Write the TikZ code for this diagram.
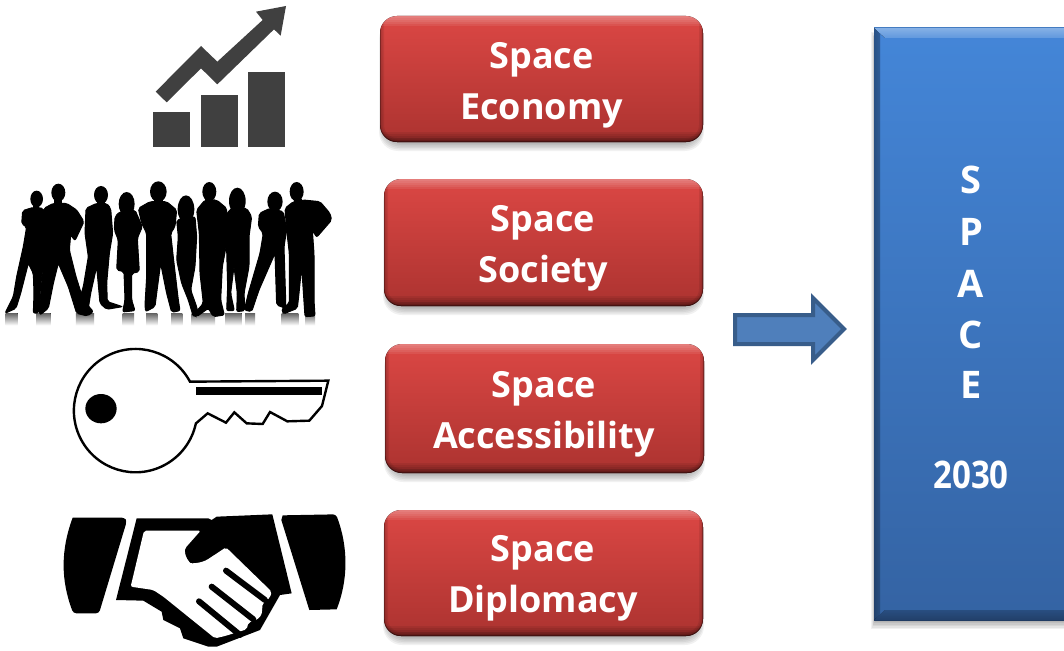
\documentclass[tikz,border=0pt]{standalone}
\usepackage{fontspec}
\setmainfont{Open Sans}
\definecolor{ico}{HTML}{404040}
\definecolor{boxtop}{HTML}{DB4744}
\definecolor{boxbot}{HTML}{AC3330}
\definecolor{blutop}{HTML}{4486D8}
\definecolor{blubot}{HTML}{3463A3}
\definecolor{arrowfill}{HTML}{4F7FBB}
\definecolor{arrowline}{HTML}{385D8A}
\tikzset{
 redbox/.style={rounded corners=17pt,top color=boxtop,bottom color=boxbot},
 boxtxt/.style={text=white,font=\bfseries\fontsize{36}{51}\selectfont,align=center,inner sep=0pt},
 spacetxt/.style={text=white,font=\bfseries\fontsize{38}{38}\selectfont,inner sep=0pt},
 person/.style={fill=black,draw=black,line width=1pt,rounded corners=2pt},
 reflect/.style={top color=black!60,bottom color=white,draw=none},
 softshadow/.style={fill=black,opacity=.055,draw=none},
}
\newcommand{\redpanel}[4]{%
  \foreach \k in {0,1.5,3,4.5,6,7.5}
    \fill[softshadow,rounded corners=19pt] (#1-1+\k/2,#2+4+\k) rectangle (#3+1-\k/2,#4+9-\k);
  \fill[redbox] (#1,#2) rectangle (#3,#4);
  \begin{scope}
    \clip[rounded corners=17pt] (#1,#2) rectangle (#3,#4);
    \foreach \k in {2,4,6,8,10}
      \fill[white,opacity=.07] (#1,#2) rectangle (#3,#2+\k);
    \foreach \k in {2,4,6,8,10}
      \fill[black,opacity=.07] (#1,#4) rectangle (#3,#4-\k);
    \foreach \k in {2,5,8}
      \draw[black,opacity=.08,line width=\k pt,rounded corners=17pt] (#1,#2-14) rectangle (#3,#4);
    \draw[black,opacity=.35,line width=1.4pt,rounded corners=17pt] (#1,#2-14) rectangle (#3,#4);
  \end{scope}
}
\begin{document}
\begin{tikzpicture}[x=1pt,y=-1pt]
\useasboundingbox (0,0) rectangle (1064,650);
\fill[white] (0,0) rectangle (1064,650);
% chart icon
\begin{scope}[scale=1/3]
\fill[ico] (460,335) rectangle (570,440);
\fill[ico] (602,285) rectangle (714,440);
\fill[ico] (745,215) rectangle (855,440);
\fill[ico] (467,275)--(603,138)--(652,185)--(788,60)--(768,35)--(858,18)--(842,107)--(822,88)--(652,253)--(603,205)--(500,307)--cycle;
\end{scope}
% people
\begin{scope}[scale=1/3]
\foreach \x/\w in {35/36,130/44,255/55,385/34,455/34,530/34,610/70,700/50,750/30,870/50,930/30}
  \fill[reflect] (\x-\w/2,940) rectangle (\x+\w/2,976);
\foreach \cx/\cy/\rx/\ry in {110/597/19/25,175/578/21/27,303/585/21/27,380/612/24/36,475/575/25/31,558/628/25/42,628/575/21/29,712/603/25/40,825/605/23/30,890/575/21/29}
  \fill (\cx,\cy) ellipse [x radius=\rx,y radius=\ry];
\foreach \cx/\cy/\w in {108/615/20,175/600/24,303/605/24,380/630/26,475/600/28,628/598/24,825/625/22,893/598/24}
  \fill (\cx-\w/2,\cy) rectangle (\cx+\w/2,\cy+25);
\fill[person] (68,632)--(100,622)--(130,625)--(145,700)--(135,760)--(125,830)--(120,880)--(118,938)--(100,940)--(102,880)--(100,820)--(85,790)--(62,880)--(48,925)--(15,940)--(40,890)--(50,830)--(70,740)--(80,680)--(65,672)--cycle;
\fill[person] (132,625)--(160,610)--(200,610)--(230,630)--(252,665)--(225,722)--(212,705)--(208,750)--(228,830)--(250,900)--(280,935)--(262,948)--(230,940)--(205,860)--(175,790)--(160,850)--(145,925)--(120,945)--(118,930)--(125,850)--(135,760)--(145,700)--(128,640)--cycle;
\fill[person] (258,625)--(290,610)--(320,610)--(332,625)--(338,700)--(328,760)--(320,850)--(322,905)--(368,920)--(320,928)--(300,910)--(290,800)--(272,880)--(265,925)--(230,925)--(250,860)--(265,770)--(255,700)--cycle;
\fill[person] (345,650)--(360,635)--(405,630)--(427,680)--(412,715)--(418,815)--(395,820)--(395,900)--(405,932)--(368,936)--(375,900)--(372,815)--(350,810)--(355,720)--(343,690)--cycle;
\fill[person] (415,625)--(450,605)--(500,605)--(530,630)--(525,680)--(512,700)--(522,790)--(535,900)--(540,932)--(515,937)--(500,880)--(482,790)--(470,880)--(465,920)--(437,935)--(435,915)--(440,830)--(440,700)--(425,670)--cycle;
\fill[person] (530,660)--(585,650)--(590,710)--(585,800)--(572,870)--(590,920)--(595,945)--(580,950)--(565,900)--(545,850)--(530,780)--(535,710)--cycle;
\fill[person] (590,630)--(615,600)--(650,600)--(680,625)--(682,720)--(667,800)--(662,900)--(673,945)--(640,950)--(625,925)--(590,950)--(580,945)--(610,910)--(600,820)--(598,700)--cycle;
\fill[person] (680,640)--(700,620)--(740,625)--(755,650)--(747,710)--(747,800)--(732,880)--(735,932)--(710,935)--(712,880)--(702,800)--(692,880)--(703,932)--(680,932)--(683,860)--(680,750)--cycle;
\fill[person] (778,640)--(810,625)--(850,635)--(860,690)--(852,740)--(857,900)--(857,925)--(830,915)--(825,760)--(777,870)--(755,935)--(733,930)--(745,880)--(780,760)--(790,700)--(775,680)--cycle;
\fill[person] (855,625)--(880,605)--(910,600)--(960,605)--(990,640)--(995,660)--(950,712)--(937,690)--(942,760)--(942,900)--(945,948)--(915,950)--(905,800)--(897,880)--(892,925)--(850,942)--(845,925)--(868,910)--(868,760)--(860,690)--cycle;
\end{scope}
% key
\begin{scope}[shift={(40,330)},scale=1/3]
\draw[line width=2.4pt,fill=white,line join=miter] (450,155) arc[start angle=-28,end angle=-348,radius=185] --(503,250)--(558,278)--(583,247)--(620,280)--(668,282)--(690,246)--(742,274)--(808,272)--(846,228)--(865,152)--cycle;
\fill (467,170) rectangle (845,195);
\fill (183,236) ellipse [x radius=47,y radius=44];
\end{scope}
% handshake
\begin{scope}[shift={(40,330)},scale=1/3]
\fill[rounded corners=3pt] (98,563)--(255,563)--(260,575)--(177,850)--(100,850) [sharp corners] .. controls (62,750) and (62,660) .. (98,563)--cycle;
\fill (728,556)[rounded corners=3pt]--(888,553)[sharp corners] .. controls (925,650) and (925,750) .. (890,838)--(808,840)--(724,570)--cycle;
\fill (290,565)--(505,565)--(515,570)--(530,560)--(697,553)--(755,790)--(720,795)--(660,900)--(530,950)--(505,950)--(430,925)--(420,895)--(370,870)--(365,845)--(310,812)--(228,810)--cycle;
\fill[white,rounded corners=2pt] (312,602)--(482,602)--(435,655)[rounded corners=14pt]--(428,695)--(470,710)[rounded corners=2pt]--(558,652)--(695,785)--(690,803)--(668,820)--(665,855)--(650,870)--(625,878)--(620,898)--(555,918)--(525,925)--(370,800)--(340,780)--(272,770)--cycle;
\draw[line width=6pt,line cap=round] (558,722)--(675,810);
\draw[line width=6pt,line cap=round] (515,770)--(640,868);
\draw[line width=6pt,line cap=round] (477,814)--(600,915);
\end{scope}
% red boxes
\redpanel{380}{16}{703}{142}
\redpanel{384}{179}{703}{306}
\redpanel{385}{344}{704}{473}
\redpanel{384}{510}{703}{636}
\node[boxtxt] (t1) at (541.5,85) {Space\\Economy};
\node[boxtxt] (t2) at (543,248) {Space\\Society};
\node[boxtxt] (t3) at (544,414) {Space\\Accessibility};
\node[boxtxt] (t4) at (543,578) {Space\\Diplomacy};
% arrow
\draw[fill=arrowfill,draw=arrowline,line width=4pt,miter limit=6] (735,315)--(813,315)--(813,298)--(844,329)--(813,360)--(813,344)--(735,344)--cycle;
% blue panel
\foreach \k in {0,1.5,3,4.5,6,7.5}
  \fill[softshadow] (871+\k/2,32+\k) rectangle (1070,629-\k);
\fill[top color=blutop,bottom color=blubot] (874,28) rectangle (1070,620);
\fill[top color=blutop!65!white,bottom color=blutop!85!white] (874,28)--(1070,28)--(1070,38)--(885,38)--cycle;
\fill[top color=blubot,bottom color=blubot!80!black,opacity=.7] (874,620)--(1070,620)--(1070,610)--(885,610)--cycle;
\fill[left color=blubot!60!black,right color=blubot,opacity=.3] (874,28)--(880,34)--(880,614)--(874,620)--cycle;
\draw[blubot!60!black,line width=1pt] (874,620)--(1064,620);
\node[spacetxt] (s) at (971,180) {S};
\node[spacetxt] (p) at (971,232) {P};
\node[spacetxt] (a) at (971,284) {A};
\node[spacetxt] (c) at (971,335) {C};
\node[spacetxt] (e) at (971,385) {E};
\node[spacetxt] (y) at (971,475) {\scalebox{.87}[1]{2030}};
\end{tikzpicture}
\end{document}
